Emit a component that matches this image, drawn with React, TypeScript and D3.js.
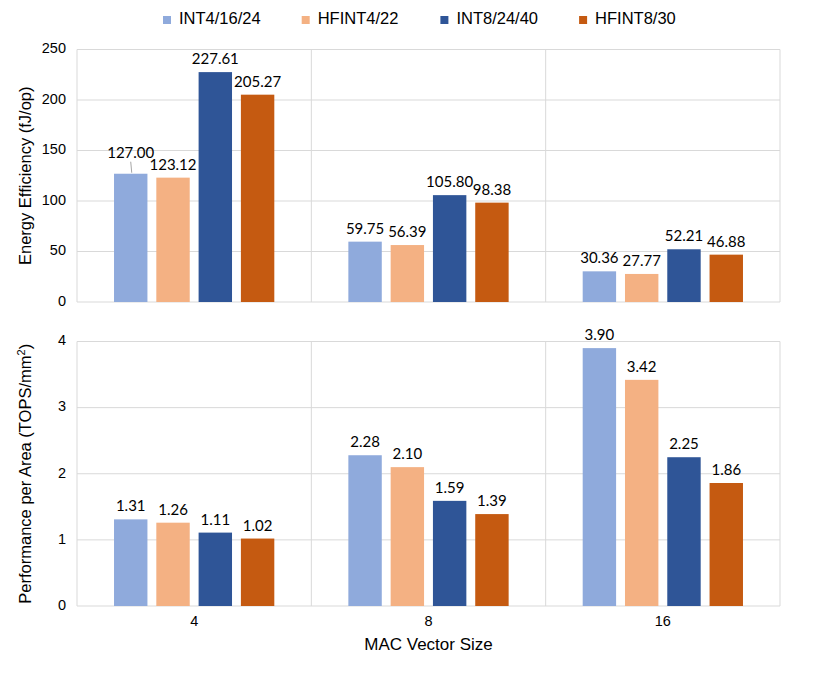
import * as d3 from "d3";

const categories = ["4", "8", "16"];
const seriesNames = ["INT4/16/24", "HFINT4/22", "INT8/24/40", "HFINT8/30"];
const seriesColors = ["#8faadc", "#f4b183", "#2f5597", "#c55a11"];

// energy efficiency (fJ/op), one array per series, index = category
const energyInt4 = [127.0, 59.75, 30.36];
const energyHfint4 = [123.12, 56.39, 27.77];
const energyInt8 = [227.61, 105.8, 52.21];
const energyHfint8 = [205.27, 98.38, 46.88];

// performance per area (TOPS/mm²)
const perfInt4 = [1.31, 2.28, 3.9];
const perfHfint4 = [1.26, 2.1, 3.42];
const perfInt8 = [1.11, 1.59, 2.25];
const perfHfint8 = [1.02, 1.39, 1.86];

const energyTicks = [0, 50, 100, 150, 200, 250];
const perfTicks = [0, 1, 2, 3, 4];

const width = 830;
const height = 676;
const plotLeft = 77;
const plotRight = 780;

const axisFont = "'Liberation Sans', Arial, sans-serif";
const labelFont = "Lato, 'Open Sans', sans-serif";

const x0 = d3.scaleBand<string>().domain(categories).range([plotLeft, plotRight]);

function Panel({
  top,
  bottom,
  domain,
  ticks,
  values,
  decimals,
  title,
  leader,
}: {
  top: number;
  bottom: number;
  domain: [number, number];
  ticks: number[];
  values: number[][];
  decimals: number;
  title: React.ReactNode;
  leader?: { series: number; cat: number; lift: number };
}) {
  const bw = x0.bandwidth();
  const x1 = d3
    .scaleBand<string>()
    .domain(seriesNames)
    .range([bw * 0.158, bw * 0.842])
    .paddingInner(0.21);
  const y = d3.scaleLinear().domain(domain).range([bottom, top]);

  return (
    <g>
      {/* grid */}
      {ticks.map((t) => (
        <line
          key={`h-${t}`}
          x1={plotLeft}
          x2={plotRight}
          y1={y(t)}
          y2={y(t)}
          stroke="#d9d9d9"
          strokeWidth={1}
        />
      ))}
      {categories.map((c) => (
        <line
          key={`v-${c}`}
          x1={x0(c)!}
          x2={x0(c)!}
          y1={top}
          y2={bottom}
          stroke="#d9d9d9"
        />
      ))}
      <line x1={plotRight} x2={plotRight} y1={top} y2={bottom} stroke="#d9d9d9" />

      {/* tick labels */}
      {ticks.map((t) => (
        <text
          key={`t-${t}`}
          x={66}
          y={y(t)}
          textAnchor="end"
          dominantBaseline="middle"
          fontFamily={axisFont}
          fontSize={14.5}
          fill="#000"
        >
          {t}
        </text>
      ))}

      <text
        transform={`translate(27,${(top + bottom) / 2}) rotate(-90)`}
        textAnchor="middle"
        dominantBaseline="middle"
        fontFamily={axisFont}
        fontSize={16.5}
      >
        {title}
      </text>

      {/* bars */}
      {values.map((vals, si) =>
        vals.map((v, ci) => {
          const bx = x0(categories[ci])! + x1(seriesNames[si])!;
          const by = y(v);
          const cx = bx + x1.bandwidth() / 2;
          const isLeader = leader && leader.series === si && leader.cat === ci;
          const ly = by - 8 - (isLeader ? leader!.lift : 0);
          return (
            <g key={`b-${si}-${ci}`}>
              <rect
                x={bx}
                y={by}
                width={x1.bandwidth()}
                height={bottom - by}
                fill={seriesColors[si]}
              />
              {isLeader && (
                <line
                  x1={cx}
                  x2={cx + 1}
                  y1={ly + 4}
                  y2={by - 1}
                  stroke="#a6a6a6"
                  strokeWidth={1}
                />
              )}
              <text
                x={cx}
                y={ly}
                textAnchor="middle"
                fontFamily={labelFont}
                fontSize={15}
                fill="#000"
              >
                {v.toFixed(decimals)}
              </text>
            </g>
          );
        })
      )}
    </g>
  );
}

export default function App() {
  const legendStart = 163;
  const legendStep = 138.7;
  return (
    <svg
      width={width}
      height={height}
      viewBox={`0 0 ${width} ${height}`}
      style={{ position: "absolute", left: 0, top: 0, background: "#fff" }}
    >
      <rect width={width} height={height} fill="#fff" />

      {/* legend */}
      {seriesNames.map((name, i) => (
        <g key={name} transform={`translate(${legendStart + i * legendStep},20)`}>
          <rect x={0} y={-4} width={8} height={8} fill={seriesColors[i]} />
          <text
            x={16}
            y={0}
            dominantBaseline="middle"
            fontFamily={axisFont}
            fontSize={16.5}
            fill="#000"
          >
            {name}
          </text>
        </g>
      ))}

      <Panel
        top={49.5}
        bottom={302}
        domain={[0, 250]}
        ticks={energyTicks}
        values={[energyInt4, energyHfint4, energyInt8, energyHfint8]}
        decimals={2}
        title="Energy Efficiency (fJ/op)"
        leader={{ series: 0, cat: 0, lift: 8 }}
      />
      <Panel
        top={341.5}
        bottom={606}
        domain={[0, 4]}
        ticks={perfTicks}
        values={[perfInt4, perfHfint4, perfInt8, perfHfint8]}
        decimals={2}
        title={
          <>
            Performance per Area (TOPS/mm
            <tspan dy={-5} fontSize={11}>
              2
            </tspan>
            <tspan dy={5}>)</tspan>
          </>
        }
      />

      {/* x axis labels */}
      {categories.map((c) => (
        <text
          key={c}
          x={x0(c)! + x0.bandwidth() / 2}
          y={622}
          textAnchor="middle"
          dominantBaseline="middle"
          fontFamily={axisFont}
          fontSize={14.5}
        >
          {c}
        </text>
      ))}
      <text
        x={(plotLeft + plotRight) / 2}
        y={646}
        textAnchor="middle"
        dominantBaseline="middle"
        fontFamily={axisFont}
        fontSize={17}
      >
        MAC Vector Size
      </text>
    </svg>
  );
}
